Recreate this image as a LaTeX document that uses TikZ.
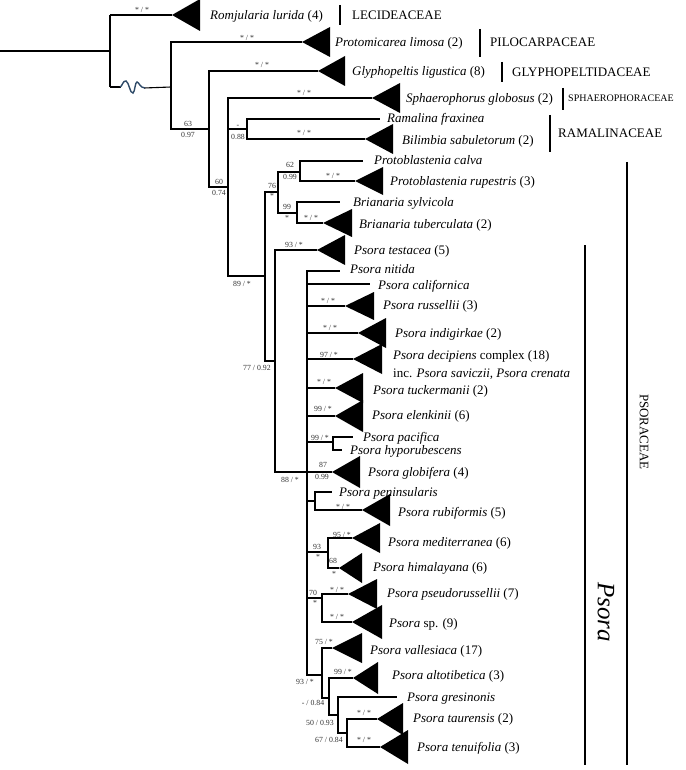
\documentclass[tikz,border=0pt]{standalone}
\usepackage{fontspec}
\setmainfont{Liberation Serif}
\definecolor{squig}{HTML}{2E4A68}
\definecolor{supc}{HTML}{333333}
\begin{document}
\begin{tikzpicture}[x=1pt,y=-1pt,
  br/.style={line width=2.7pt},
  thinbr/.style={line width=1.1pt},
  midbr/.style={line width=1.4pt},
  tx/.style={anchor=west,inner sep=0pt,font=\fontsize{13}{15}\selectfont,text height=11pt,text depth=2pt},
  sup/.style={inner sep=0pt,font=\fontsize{7.8}{8}\selectfont,text=supc},
  fam/.style={anchor=west,inner sep=0pt,font=\fontsize{13}{15}\selectfont,text height=11pt,text depth=2pt},
  bar/.style={line width=1.2pt}]
\useasboundingbox (0,0) rectangle (685,770);
\newcommand\cladetri[3]{\fill (#1) -- ++(#2,-#3) -- ++(0,2*#3) -- cycle;}
% internal nodes
\coordinate (R0) at (0,51);
\coordinate (A) at (110,51);
\coordinate (B) at (171,87);
\coordinate (C) at (209,129);
\coordinate (D) at (228,187);
\coordinate (E) at (247,129);
\coordinate (F) at (265,276);
\coordinate (G) at (278,192);
\coordinate (H) at (300,172);
\coordinate (I) at (297,213);
\coordinate (J) at (275,361);
\coordinate (K) at (307,472);
\coordinate (Pc) at (333,442);
\coordinate (L) at (315,501);
\coordinate (M) at (328,552);
\coordinate (N) at (322,598);
\coordinate (O) at (322,675);
\coordinate (P) at (329,698);
\coordinate (Q) at (338,715);
\coordinate (Rr) at (347,733);
% tips
\coordinate (tRom) at (172,15);
\coordinate (tPro) at (302,42);
\coordinate (tGly) at (318,71);
\coordinate (tSph) at (372,98);
\coordinate (tRam) at (380,119);
\coordinate (tBil) at (365,139);
\coordinate (tCal) at (363,161);
\coordinate (tRup) at (355,181);
\coordinate (tSyl) at (340,202);
\coordinate (tTub) at (323,223);
\coordinate (tTes) at (317,250);
\coordinate (tNit) at (340,271);
\coordinate (tCalif) at (370,284);
\coordinate (tRus) at (345,306);
\coordinate (tInd) at (358,333);
\coordinate (tDec) at (353,359);
\coordinate (tTuc) at (335,388);
\coordinate (tEle) at (335,416);
\coordinate (tPac) at (353,437);
\coordinate (tHyp) at (342,450);
\coordinate (tGlo) at (332,472);
\coordinate (tPen) at (332,492);
\coordinate (tRub) at (362,510);
\coordinate (tMed) at (352,538);
\coordinate (tHim) at (339,568);
\coordinate (tPse) at (348,594);
\coordinate (tSp) at (352,622);
\coordinate (tVal) at (332,648);
\coordinate (tAlt) at (353,678);
\coordinate (tGre) at (397,697);
\coordinate (tTau) at (377,719);
\coordinate (tTen) at (380,747);
% root part
\draw[thinbr] (R0) -- (A);
\draw[midbr] (A |- tRom) -- (A |- B);
\draw[br] (A |- tRom) -- (tRom);
\draw[thinbr] (A |- B) -- (121,87);
\draw[thinbr] (144,88) -- (B);
\draw[color=squig,line width=1.4pt] (120,87) .. controls (122,87) and (123,80) .. (126,81) .. controls (129,82) and (130,94) .. (133,93) .. controls (135,92) and (135,82) .. (137,82) .. controls (139,82) and (140,88) .. (145,88);
% branches
\draw[br] (B) |- (tPro); \draw[br] (B) |- (C);
\draw[br] (C) |- (tGly); \draw[br] (C) |- (D);
\draw[br] (D) |- (tSph); \draw[br] (D) |- (E); \draw[br] (D) |- (F);
\draw[br] (E) |- (tRam); \draw[br] (E) |- (tBil);
\draw[br] (F) |- (G); \draw[br] (F) |- (J);
\draw[br] (G) |- (H); \draw[br] (G) |- (I);
\draw[br] (H) |- (tCal); \draw[br] (H) |- (tRup);
\draw[br] (I) |- (tSyl); \draw[br] (I) |- (tTub);
\draw[br] (J) |- (tTes); \draw[br] (J) |- (K);
\foreach \t in {tNit,tCalif,tRus,tInd,tDec,tTuc,tEle,Pc,L,M,N,O} {\draw[br] (K) |- (\t);}
\draw[br] (K) -- (tGlo);
\draw[br] (Pc) |- (tPac); \draw[br] (Pc) |- (tHyp);
\draw[br] (L) |- (tPen); \draw[br] (L) |- (tRub);
\draw[br] (M) |- (tMed); \draw[br] (M) |- (tHim);
\draw[br] (N) |- (tPse); \draw[br] (N) |- (tSp);
\draw[br] (O) |- (tVal); \draw[br] (O) |- (P);
\draw[br] (P) |- (tAlt); \draw[br] (P) |- (Q);
\draw[br] (Q) |- (tGre); \draw[br] (Q) |- (Rr);
\draw[br] (Rr) |- (tTau); \draw[br] (Rr) |- (tTen);
% collapsed clades
\cladetri{tRom}{28}{16}
\cladetri{tPro}{28}{15}
\cladetri{tGly}{27}{15}
\cladetri{tSph}{28}{15}
\cladetri{tBil}{28}{15}
\cladetri{tRup}{28}{14}
\cladetri{tTub}{29}{14}
\cladetri{tTes}{28}{15}
\cladetri{tRus}{29}{14}
\cladetri{tInd}{28}{15}
\cladetri{tDec}{29}{15}
\cladetri{tTuc}{28}{15}
\cladetri{tEle}{28}{16}
\cladetri{tGlo}{28}{16}
\cladetri{tRub}{28}{16}
\cladetri{tMed}{28}{15}
\cladetri{tHim}{23}{15}
\cladetri{tPse}{29}{15}
\cladetri{tSp}{30}{17}
\cladetri{tVal}{30}{15}
\cladetri{tAlt}{25}{16}
\cladetri{tTau}{26}{16}
\cladetri{tTen}{28}{17}
% taxon labels
\node[tx] (lRom) at (210,15) {\textit{Romjularia lurida} (4)};
\node[tx] (lPro) at (335,42) {\textit{Protomicarea limosa} (2)};
\node[tx] (lGly) at (352,71) {\textit{Glyphopeltis ligustica} (8)};
\node[tx] (lSph) at (406,98) {\textit{Sphaerophorus globosus} (2)};
\node[tx] (lRam) at (387,118) {\textit{Ramalina fraxinea}};
\node[tx] (lBil) at (402,140) {\textit{Bilimbia sabuletorum} (2)};
\node[tx] (lCal) at (374,160) {\textit{Protoblastenia calva}};
\node[tx] (lRup) at (390,181) {\textit{Protoblastenia rupestris} (3)};
\node[tx] (lSyl) at (353,202) {\textit{Brianaria sylvicola}};
\node[tx] (lTub) at (359,224) {\textit{Brianaria tuberculata} (2)};
\node[tx] (lTes) at (354,250) {\textit{Psora testacea} (5)};
\node[tx] (lNit) at (350,269) {\textit{Psora nitida}};
\node[tx] (lCalif) at (378,285) {\textit{Psora californica}};
\node[tx] (lRus) at (383,305) {\textit{Psora russellii} (3)};
\node[tx] (lInd) at (395,333) {\textit{Psora indigirkae} (2)};
\node[tx] (lDec) at (393,355) {\textit{Psora decipiens} complex (18)};
\node[tx] (lInc) at (393,373) {inc. \textit{Psora saviczii, Psora crenata}};
\node[tx] (lTuc) at (373,390) {\textit{Psora tuckermanii} (2)};
\node[tx] (lEle) at (372,415) {\textit{Psora elenkinii} (6)};
\node[tx] (lPac) at (363,437) {\textit{Psora pacifica}};
\node[tx] (lHyp) at (350,450) {\textit{Psora hyporubescens}};
\node[tx] (lGlo) at (368,472) {\textit{Psora globifera} (4)};
\node[tx] (lPen) at (339,492) {\textit{Psora peninsularis}};
\node[tx] (lRub) at (398,512) {\textit{Psora rubiformis} (5)};
\node[tx] (lMed) at (388,542) {\textit{Psora mediterranea} (6)};
\node[tx] (lHim) at (373,567) {\textit{Psora himalayana} (6)};
\node[tx] (lPse) at (387,593) {\textit{Psora pseudorussellii} (7)};
\node[tx] (lSp) at (389,623) {\textit{Psora} sp. (9)};
\node[tx] (lVal) at (370,650) {\textit{Psora vallesiaca} (17)};
\node[tx] (lAlt) at (392,675) {\textit{Psora altotibetica} (3)};
\node[tx] (lGre) at (407,697) {\textit{Psora gresinonis}};
\node[tx] (lTau) at (413,718) {\textit{Psora taurensis} (2)};
\node[tx] (lTen) at (417,747) {\textit{Psora tenuifolia} (3)};
% support values
\node[sup] (s1) at (142,10) {* / *};
\node[sup] (s2) at (247,38) {* / *};
\node[sup] (s3) at (262,65) {* / *};
\node[sup] (s4) at (304,93) {* / *};
\node[sup] (s5) at (238,126) {-};
\node[sup] (s6) at (238,137) {0.88};
\node[sup] (s7) at (304,133) {* / *};
\node[sup] (s8) at (188,124) {63};
\node[sup] (s9) at (188,135) {0.97};
\node[sup] (s10) at (219,182) {60};
\node[sup] (s11) at (219,193) {0.74};
\node[sup] (s12) at (290,165) {62};
\node[sup] (s13) at (290,177) {0.99};
\node[sup] (s14) at (333,176) {* / *};
\node[sup] (s15) at (272,186) {76};
\node[sup] (s16) at (272,196) {*};
\node[sup] (s17) at (287,207) {99};
\node[sup] (s18) at (287,218) {*};
\node[sup] (s19) at (311,218) {* / *};
\node[sup] (s20) at (294,245) {93 / *};
\node[sup] (s21) at (242,284) {89 / *};
\node[sup] (s22) at (257,368) {77 / 0.92};
\node[sup] (s23) at (328,301) {* / *};
\node[sup] (s24) at (330,328) {* / *};
\node[sup] (s25) at (329,355) {97 / *};
\node[sup] (s26) at (324,382) {* / *};
\node[sup] (s27) at (323,409) {99 / *};
\node[sup] (s28) at (320,438) {99 / *};
\node[sup] (s29) at (323,465) {87};
\node[sup] (s30) at (322,477) {0.99};
\node[sup] (s31) at (290,480) {88 / *};
\node[sup] (s32) at (343,507) {* / *};
\node[sup] (s33) at (342,535) {95 / *};
\node[sup] (s34) at (317,547) {93};
\node[sup] (s35) at (318,557) {*};
\node[sup] (s36) at (333,561) {68};
\node[sup] (s37) at (334,574) {*};
\node[sup] (s38) at (337,590) {* / *};
\node[sup] (s39) at (313,593) {70};
\node[sup] (s40) at (315,603) {*};
\node[sup] (s41) at (337,617) {* / *};
\node[sup] (s42) at (324,642) {75 / *};
\node[sup] (s43) at (305,682) {93 / *};
\node[sup] (s44) at (343,672) {99 / *};
\node[sup] (s45) at (313,703) {- / 0.84};
\node[sup] (s46) at (364,713) {* / *};
\node[sup] (s47) at (320,723) {50 / 0.93};
\node[sup] (s48) at (329,740) {67 / 0.84};
\node[sup] (s49) at (364,740) {* / *};
% family bars and labels
\draw[bar] (340,5) -- (340,25);
\node[fam] (fLec) at (352,15) {LECIDEACEAE};
\draw[bar] (480,29) -- (480,57);
\node[fam] (fPil) at (490,42) {PILOCARPACEAE};
\draw[bar] (502,62) -- (502,82);
\node[fam] (fGly) at (512,72) {GLYPHOPELTIDACEAE};
\draw[bar] (563,88) -- (563,110);
\node[fam,font=\fontsize{10}{12}\selectfont,text height=8.5pt,text depth=1.5pt] (fSph) at (568,98) {SPHAEROPHORACEAE};
\draw[bar] (550,115) -- (550,152);
\node[fam] (fRam) at (558,133) {RAMALINACEAE};
\draw[bar] (627,162) -- (627,765);
\node[inner sep=0pt,rotate=-90,font=\fontsize{13}{15}\selectfont] (fPso) at (644,432) {PSORACEAE};
\draw[bar] (585,245) -- (585,765);
\node[inner sep=0pt,rotate=-90,font=\fontsize{25}{28}\selectfont\itshape] (gPso) at (606,612) {Psora};
\end{tikzpicture}
\end{document}
